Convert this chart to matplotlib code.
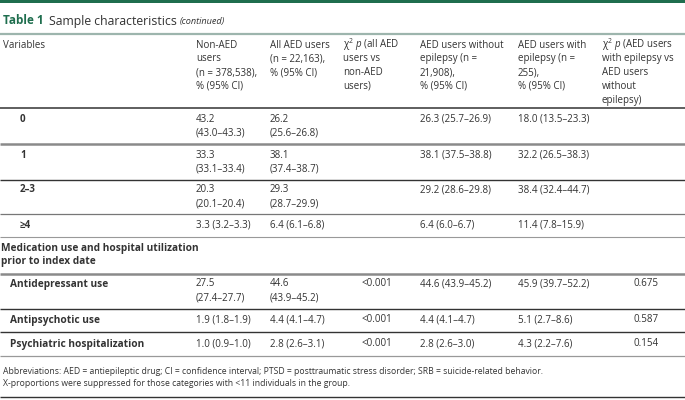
import matplotlib
matplotlib.use("Agg")
import matplotlib.pyplot as plt

plt.rcParams["font.family"] = ["Open Sans", "DejaVu Sans"]
plt.rcParams["mathtext.fontset"] = "custom"
plt.rcParams["mathtext.rm"] = "Open Sans"
plt.rcParams["mathtext.it"] = "Open Sans:italic"

TXT = "#333333"
GREEN = "#1f6e4e"

# Table content
headers = [
    "Variables",
    "Non-AED\nusers\n(n = 378,538),\n% (95% CI)",
    "All AED users\n(n = 22,163),\n% (95% CI)",
    "χ$^2$ $p$ (all AED\nusers vs\nnon-AED\nusers)",
    "AED users without\nepilepsy (n =\n21,908),\n% (95% CI)",
    "AED users with\nepilepsy (n =\n255),\n% (95% CI)",
    "χ$^2$ $p$ (AED users\nwith epilepsy vs\nAED users\nwithout\nepilepsy)",
]
categories = ["0", "1", "2–3", "≥4"]
cat_non_aed = ["43.2 (43.0–43.3)", "33.3 (33.1–33.4)", "20.3 (20.1–20.4)", "3.3 (3.2–3.3)"]
cat_all_aed = ["26.2 (25.6–26.8)", "38.1 (37.4–38.7)", "29.3 (28.7–29.9)", "6.4 (6.1–6.8)"]
cat_without = ["26.3 (25.7–26.9)", "38.1 (37.5–38.8)", "29.2 (28.6–29.8)", "6.4 (6.0–6.7)"]
cat_with = ["18.0 (13.5–23.3)", "32.2 (26.5–38.3)", "38.4 (32.4–44.7)", "11.4 (7.8–15.9)"]

section = "Medication use and hospital utilization\nprior to index date"
meds = ["Antidepressant use", "Antipsychotic use", "Psychiatric hospitalization"]
med_non_aed = ["27.5 (27.4–27.7)", "1.9 (1.8–1.9)", "1.0 (0.9–1.0)"]
med_all_aed = ["44.6 (43.9–45.2)", "4.4 (4.1–4.7)", "2.8 (2.6–3.1)"]
med_p1 = ["<0.001", "<0.001", "<0.001"]
med_without = ["44.6 (43.9–45.2)", "4.4 (4.1–4.7)", "2.8 (2.6–3.0)"]
med_with = ["45.9 (39.7–52.2)", "5.1 (2.7–8.6)", "4.3 (2.2–7.6)"]
med_p2 = ["0.675", "0.587", "0.154"]

footnote = ("Abbreviations: AED = antiepileptic drug; CI = confidence interval; "
            "PTSD = posttraumatic stress disorder; SRB = suicide-related behavior.\n"
            "X-proportions were suppressed for those categories with <11 individuals in the group.")

# layout (pixels)
col_x = [3, 196, 270, 343, 420, 518, 602]
p1_right, p2_right = 392, 659
pitch = 13.8
fs = 7.0

fig = plt.figure(figsize=(6.85, 4.0), dpi=100)
ax = fig.add_axes([0, 0, 1, 1])
ax.set_xlim(0, 685)
ax.set_ylim(400, 0)
ax.axis("off")


def lines(x, y, s, ha="left", weight="normal", size=fs):
    for i, part in enumerate(s.split("\n")):
        ax.text(x, y + i * pitch, part, ha=ha, va="center", fontsize=size,
                color=TXT, fontweight=weight)


def wrap(s):
    return s.replace(" ", "\n", 1) if len(s) > 14 else s


def rule(y, color="#333333", lw=1.0):
    ax.plot([0, 685], [y, y], color=color, lw=lw, solid_capstyle="butt")


# top bar and title
ax.add_patch(plt.Rectangle((0, 0), 685, 3, color=GREEN, lw=0))
ax.text(3, 21, "Table 1", fontsize=8.5, fontweight="bold", color=GREEN, va="center")
ax.text(49, 21, "Sample characteristics", fontsize=8.8, color=TXT, va="center")
ax.text(180, 21.5, "(continued)", fontsize=6.6, color=TXT, va="center", style="italic")
rule(34, "#9db5ad", 1.6)

for x, h in zip(col_x, headers):
    lines(x, 45, h)
rule(108, "#333333", 1.1)

cat_y = [119, 155, 190, 225]
cat_lines = [144, 180, 214, 237]
cat_colors = [("#8a8a8a", 1.8), ("#333333", 1.0), ("#777777", 0.9), ("#999999", 0.8)]
for i, c in enumerate(categories):
    y = cat_y[i]
    lines(20, y, c, weight="bold")
    lines(col_x[1], y, wrap(cat_non_aed[i]))
    lines(col_x[2], y, wrap(cat_all_aed[i]))
    lines(col_x[4], y, cat_without[i])
    lines(col_x[5], y, cat_with[i])
    rule(cat_lines[i], *cat_colors[i])

lines(1, 248, section, weight="bold", size=7.3)
rule(274, "#8a8a8a", 1.8)

med_y = [284, 320, 344]
med_lines = [309, 332, 356]
med_colors = [("#333333", 1.0), ("#333333", 1.0), ("#999999", 0.9)]
for i, m in enumerate(meds):
    y = med_y[i]
    lines(10, y, m, weight="bold", size=7.3)
    lines(col_x[1], y, wrap(med_non_aed[i]))
    lines(col_x[2], y, wrap(med_all_aed[i]))
    lines(p1_right, y, med_p1[i], ha="right")
    lines(col_x[4], y, med_without[i])
    lines(col_x[5], y, med_with[i])
    lines(p2_right, y, med_p2[i], ha="right")
    rule(med_lines[i], *med_colors[i])

for i, part in enumerate(footnote.split("\n")):
    ax.text(3, 372 + i * 12, part, fontsize=6.2, color=TXT, va="center")
rule(397, "#333333", 1.0)

fig.savefig("out.png", dpi=100)
